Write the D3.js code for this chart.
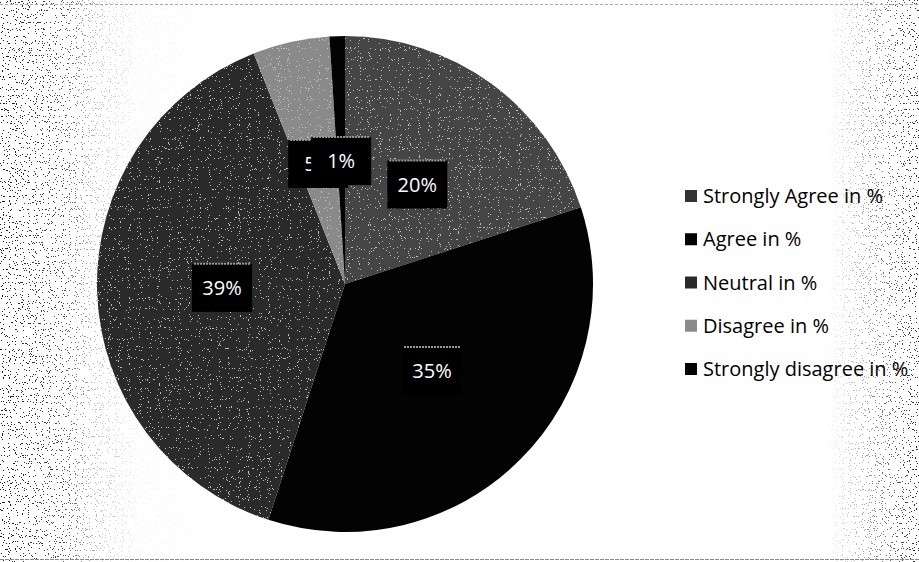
<!DOCTYPE html>
<html>
<head>
<meta charset="utf-8">
<script src="https://cdn.jsdelivr.net/npm/d3@7"></script>
<style>
  html, body { margin: 0; padding: 0; background: #fff; }
  svg { display: block; }
</style>
</head>
<body>
<svg id="chart" width="919" height="562"></svg>
<script>
// Survey responses, share of respondents per answer
const categories = ["Strongly Agree in %", "Agree in %", "Neutral in %", "Disagree in %", "Strongly disagree in %"];
const values = [20, 35, 39, 5, 1];
const valueLabels = ["20%", "35%", "39%", "5%", "1%"];
const sliceColors = ["#333333", "#030303", "#2a2a2a", "#8a8a8a", "#030303"];
const sliceFills = ["url(#saFill)", "#030303", "url(#neuFill)", "#8a8a8a", "#030303"];
const grainy = [true, false, true, true, false];

const W = 919, H = 562;
const cx = 345, cy = 284, R = 248, labelR = 123;

const svg = d3.select("#chart");
const defs = svg.append("defs");

// speckle texture: thresholded fine noise for the halftone look of the page
const speck = defs.append("filter").attr("id", "speckle")
  .attr("x", 0).attr("y", 0).attr("width", 1).attr("height", 1);
speck.append("feTurbulence").attr("type", "fractalNoise")
  .attr("baseFrequency", 0.85).attr("numOctaves", 1).attr("seed", 7).attr("result", "n");
speck.append("feColorMatrix").attr("type", "matrix")
  .attr("values", "0 0 0 0 0  0 0 0 0 0  0 0 0 0 0  -2.2 0 0 0 1.5").attr("in", "n").attr("result", "a");
const ct = speck.append("feComponentTransfer").attr("in", "a").attr("result", "dots");
ct.append("feFuncA").attr("type", "discrete").attr("tableValues", "0 0 0 1");
speck.append("feComposite").attr("in", "dots").attr("in2", "SourceGraphic").attr("operator", "in");

// grain inside the grey slices: light specks over the fill
const grain = defs.append("filter").attr("id", "grain")
  .attr("x", 0).attr("y", 0).attr("width", 1).attr("height", 1);
grain.append("feTurbulence").attr("type", "fractalNoise")
  .attr("baseFrequency", 0.9).attr("numOctaves", 1).attr("seed", 3).attr("result", "n");
grain.append("feColorMatrix").attr("type", "matrix").attr("in", "n")
  .attr("values", "0 0 0 0 0.6  0 0 0 0 0.6  0 0 0 0 0.6  2.4 0 0 0 -1.15").attr("result", "w");
const ct2 = grain.append("feComponentTransfer").attr("in", "w").attr("result", "wd");
ct2.append("feFuncA").attr("type", "discrete").attr("tableValues", "0 0 0.85 1");
grain.append("feComposite").attr("in", "wd").attr("in2", "SourceAlpha").attr("operator", "in").attr("result", "specks");
const gm = grain.append("feMerge");
gm.append("feMergeNode").attr("in", "SourceGraphic");
gm.append("feMergeNode").attr("in", "specks");

// uneven shading inside the two large grey slices
const neu = defs.append("linearGradient").attr("id", "neuFill")
  .attr("gradientUnits", "userSpaceOnUse").attr("x1", 97).attr("x2", 345).attr("y1", 0).attr("y2", 0);
[[0, "#2c2c2c"], [0.45, "#262626"], [0.72, "#444"], [0.88, "#505050"], [1, "#3a3a3a"]].forEach(([o, c]) =>
  neu.append("stop").attr("offset", o).attr("stop-color", c));
const sa = defs.append("linearGradient").attr("id", "saFill")
  .attr("gradientUnits", "userSpaceOnUse").attr("x1", 345).attr("y1", 36).attr("x2", 520).attr("y2", 260);
[[0, "#444"], [0.35, "#2c2c2c"], [1, "#202020"]].forEach(([o, c]) =>
  sa.append("stop").attr("offset", o).attr("stop-color", c));

// edge shading of the page
const lg = defs.append("linearGradient").attr("id", "edgeFade").attr("x1", 0).attr("x2", 1);
[[0, 0.9], [0.07, 0.7], [0.1, 0.3], [0.15, 0.05], [0.25, 0], [0.9, 0], [0.95, 0.45], [1, 0.85]].forEach(([o, a]) =>
  lg.append("stop").attr("offset", o).attr("stop-color", "#fff").attr("stop-opacity", a));
const mask = defs.append("mask").attr("id", "edgeMask");
mask.append("rect").attr("width", W).attr("height", H).attr("fill", "url(#edgeFade)");

svg.append("rect").attr("width", W).attr("height", H).attr("fill", "#fff");
svg.append("g").attr("mask", "url(#edgeMask)")
  .append("rect").attr("width", W).attr("height", H).attr("fill", "#a0a0a0").attr("filter", "url(#speckle)");

// frame lines
svg.append("line").attr("x1", 0).attr("x2", W).attr("y1", 4.5).attr("y2", 4.5)
  .attr("stroke", "#aaa").attr("stroke-dasharray", "3 2");
svg.append("line").attr("x1", 0).attr("x2", W).attr("y1", 559.5).attr("y2", 559.5)
  .attr("stroke", "#888").attr("stroke-dasharray", "4 1");

// pie
const pie = d3.pie().sort(null).value(d => d)(values);
const arc = d3.arc().innerRadius(0).outerRadius(R);
const labelArc = d3.arc().innerRadius(labelR).outerRadius(labelR);

const g = svg.append("g").attr("transform", `translate(${cx},${cy})`);
g.selectAll("path.slice").data(pie).join("path")
  .attr("class", "slice")
  .attr("d", arc)
  .attr("fill", (d, i) => sliceFills[i])
  .attr("filter", (d, i) => grainy[i] ? "url(#grain)" : null);

// data labels on black boxes
const lab = g.selectAll("g.lab").data(pie).join("g")
  .attr("class", "lab")
  .attr("transform", d => `translate(${labelArc.centroid(d)})`);
lab.append("rect").attr("x", -30).attr("y", -24).attr("width", 60).attr("height", 48).attr("fill", "#000");
lab.append("line").attr("x1", -28).attr("x2", 28).attr("y1", -24).attr("y2", -24)
  .attr("stroke", "#999").attr("stroke-width", 2).attr("stroke-dasharray", "2 1");
lab.append("text")
  .attr("text-anchor", "middle").attr("dy", "0.36em")
  .attr("font-family", "'Open Sans', Lato, sans-serif").attr("font-size", 20)
  .attr("fill", "#fff")
  .text((d, i) => valueLabels[i]);

// legend
const ly = d3.scalePoint().domain(categories).range([196, 369]);
const legend = svg.append("g").selectAll("g").data(categories).join("g")
  .attr("transform", d => `translate(685,${ly(d)})`);
legend.append("rect").attr("x", 0).attr("y", -6).attr("width", 12).attr("height", 12)
  .attr("fill", (d, i) => sliceColors[i]);
legend.append("text").attr("x", 18).attr("dy", "0.36em")
  .attr("font-family", "'Open Sans', Lato, sans-serif").attr("font-size", 20)
  .attr("fill", "#000")
  .text(d => d);
</script>
</body>
</html>
